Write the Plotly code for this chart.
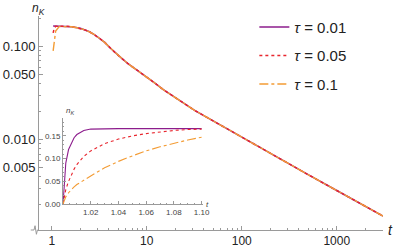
import plotly.graph_objects as go

# ---------------- data ----------------
t_main = [1.035, 1.06, 1.1, 1.2, 1.4, 1.62, 2.0, 2.24, 2.5, 2.86, 3.2, 3.64, 4.1, 4.64,
          5.5, 6.4, 8, 9.61, 12, 14.96, 20, 32.2, 50, 100, 198.6, 500, 1000, 2000, 3070]
n_main_tau001 = [0.166, 0.166, 0.166, 0.166, 0.165, 0.163, 0.157, 0.151, 0.144, 0.133, 0.122, 0.110,
                 0.097, 0.086, 0.0742, 0.065, 0.0554, 0.0486, 0.0409, 0.0344, 0.0283, 0.0205,
                 0.0159, 0.0106, 0.00711, 0.0042, 0.00284, 0.00192, 0.00151]
n_main_tau005 = [0.140, 0.155, 0.165, 0.166, 0.165, 0.163, 0.157, 0.151, 0.144, 0.133, 0.122, 0.110,
                 0.097, 0.086, 0.0742, 0.065, 0.0554, 0.0486, 0.0409, 0.0344, 0.0283, 0.0205,
                 0.0159, 0.0106, 0.00711, 0.0042, 0.00284, 0.00192, 0.00151]
n_main_tau01 = [0.090, 0.117, 0.147, 0.164, 0.165, 0.163, 0.157, 0.151, 0.144, 0.133, 0.122, 0.110,
                0.097, 0.086, 0.0742, 0.065, 0.0554, 0.0486, 0.0409, 0.0344, 0.0283, 0.0205,
                0.0159, 0.0106, 0.00711, 0.0042, 0.00284, 0.00192, 0.00151]

t_inset = [1.0, 1.001, 1.002, 1.004, 1.006, 1.008, 1.01, 1.015, 1.02, 1.03, 1.04, 1.05,
           1.06, 1.07, 1.08, 1.09, 1.10]
n_inset_tau001 = [0.0, 0.06, 0.09, 0.12, 0.135, 0.146, 0.153, 0.162, 0.165, 0.166, 0.166, 0.166,
                  0.166, 0.166, 0.166, 0.166, 0.166]
n_inset_tau005 = [0.0, 0.02, 0.032, 0.05, 0.065, 0.077, 0.087, 0.105, 0.117, 0.133, 0.143, 0.150,
                  0.155, 0.159, 0.162, 0.164, 0.165]
n_inset_tau01 = [0.0, 0.01, 0.016, 0.025, 0.032, 0.038, 0.043, 0.053, 0.062, 0.080, 0.094, 0.106,
                 0.117, 0.126, 0.134, 0.141, 0.147]

series_names = ["<i>τ</i> = 0.01", "<i>τ</i> = 0.05", "<i>τ</i> = 0.1"]
colors = ["#8C1C8C", "#E8262E", "#F39C35"]
dashes = ["solid", "dot", "dashdot"]

x_tickvals = [1, 10, 100, 1000]
x_ticktext = ["1", "10", "100", "1000"]
x_minor = [2, 3, 4, 5, 6, 7, 8, 9, 20, 30, 40, 50, 60, 70, 80, 90,
           200, 300, 400, 500, 600, 700, 800, 900, 2000, 3000]
y_tickvals = [0.005, 0.01, 0.05, 0.1]
y_ticktext = ["0.005", "0.010", "0.050", "0.100"]
y_minor = [0.002, 0.003, 0.004, 0.006, 0.007, 0.008, 0.009, 0.02, 0.03, 0.04,
           0.06, 0.07, 0.08, 0.09, 0.2]
yi_tickvals = [0, 0.05, 0.10, 0.15]
yi_ticktext = ["0.00", "0.05", "0.10", "0.15"]
xi_tickvals = [1.02, 1.04, 1.06, 1.08, 1.10]
xi_ticktext = ["1.02", "1.04", "1.06", "1.08", "1.10"]

FONT = "Liberation Sans, Arial, sans-serif"
AX = "#9a9a9a"

fig = go.Figure()
main_sets = [n_main_tau001, n_main_tau005, n_main_tau01]
inset_sets = [n_inset_tau001, n_inset_tau005, n_inset_tau01]
main_widths = [1.5, 1.5, 1.4]
for i in range(3):
    fig.add_trace(go.Scatter(x=t_main, y=main_sets[i], mode="lines", name=series_names[i],
                             legendgroup=str(i),
                             line=dict(color=colors[i], dash=dashes[i], width=main_widths[i]),
                             xaxis="x", yaxis="y"))
for i in range(3):
    fig.add_trace(go.Scatter(x=t_inset, y=inset_sets[i], mode="lines", showlegend=False,
                             legendgroup=str(i),
                             line=dict(color=colors[i], dash=dashes[i], width=1.1),
                             xaxis="x2", yaxis="y2"))

fig.update_layout(
    width=399, height=249,
    margin=dict(l=39, r=16, t=15, b=19),
    paper_bgcolor="white", plot_bgcolor="white",
    font=dict(family=FONT, color="#222", size=12),
    xaxis=dict(type="log", range=[-0.134, 3.487], domain=[0, 1], anchor="y", automargin=False,
               showline=True, linecolor=AX, linewidth=1, showgrid=False, zeroline=False,
               ticks="inside", ticklen=4, tickcolor=AX, tickvals=x_tickvals, ticktext=x_ticktext,
               tickfont=dict(size=12),
               minor=dict(ticks="inside", ticklen=2, tickcolor=AX, tickvals=x_minor, showgrid=False)),
    yaxis=dict(type="log", range=[-2.971, -0.672], domain=[0, 1], anchor="x", automargin=False,
               showline=True, linecolor=AX, linewidth=1, showgrid=False, zeroline=False,
               ticks="inside", ticklen=4, tickcolor=AX, tickvals=y_tickvals, ticktext=y_ticktext,
               tickfont=dict(size=13),
               minor=dict(ticks="inside", ticklen=2, tickcolor=AX, tickvals=y_minor, showgrid=False)),
    xaxis2=dict(range=[1.0, 1.101], domain=[0.0698, 0.4767], anchor="y2", automargin=False,
                showline=True, linecolor=AX, linewidth=0.8, showgrid=False, zeroline=False,
                ticks="inside", ticklen=3, tickcolor=AX, tickvals=xi_tickvals, ticktext=xi_ticktext,
                tickfont=dict(size=8, color="#444"),
                minor=dict(ticks="inside", ticklen=1.5, tickcolor=AX, dtick=0.005, tick0=1.0)),
    yaxis2=dict(range=[0, 0.19], domain=[0.121, 0.5247], anchor="x2", automargin=False,
                showline=True, linecolor=AX, linewidth=0.8, showgrid=False, zeroline=False,
                ticks="inside", ticklen=3, tickcolor=AX, tickvals=yi_tickvals, ticktext=yi_ticktext,
                tickfont=dict(size=8, color="#444"),
                minor=dict(ticks="inside", ticklen=1.5, tickcolor=AX, dtick=0.01, tick0=0)),
    legend=dict(x=0.626, y=1.02, xanchor="left", yanchor="top", bgcolor="rgba(0,0,0,0)",
                font=dict(size=15, family=FONT, color="#222"), tracegroupgap=6),
    showlegend=True,
)

# axis break mark on the horizontal axis (decoration)
fig.add_shape(type="path", xref="paper", yref="paper",
              path="M -0.024,0 L -0.0145,0 L -0.0115,0.02 L -0.0075,-0.02 L -0.0045,0 L 0,0",
              line=dict(color=AX, width=1))

fig.add_annotation(text="<i>n</i><sub><i>K</i></sub>", xref="paper", yref="paper",
                   x=-0.002, y=1.0, xanchor="center", yanchor="bottom", yshift=-3, showarrow=False,
                   font=dict(size=12, family=FONT, color="#222"))
fig.add_annotation(text="<i>t</i>", xref="paper", yref="paper",
                   x=1.01, y=0.0, xanchor="left", yanchor="middle", showarrow=False,
                   font=dict(size=14, family=FONT, color="#222"))
fig.add_annotation(text="<i>n</i><sub><i>K</i></sub>", xref="x2 domain", yref="y2 domain",
                   x=0.01, y=1.0, xanchor="left", yanchor="bottom", showarrow=False,
                   font=dict(size=8, family=FONT, color="#444"))
fig.add_annotation(text="<i>t</i>", xref="x2 domain", yref="y2 domain",
                   x=1.005, y=0.0, xanchor="left", yanchor="middle", showarrow=False,
                   font=dict(size=8, family=FONT, color="#444"))

fig.write_html("out.html", config={"displayModeBar": False},
               post_script="document.body.style.margin='0px';document.body.style.padding='0px';")
